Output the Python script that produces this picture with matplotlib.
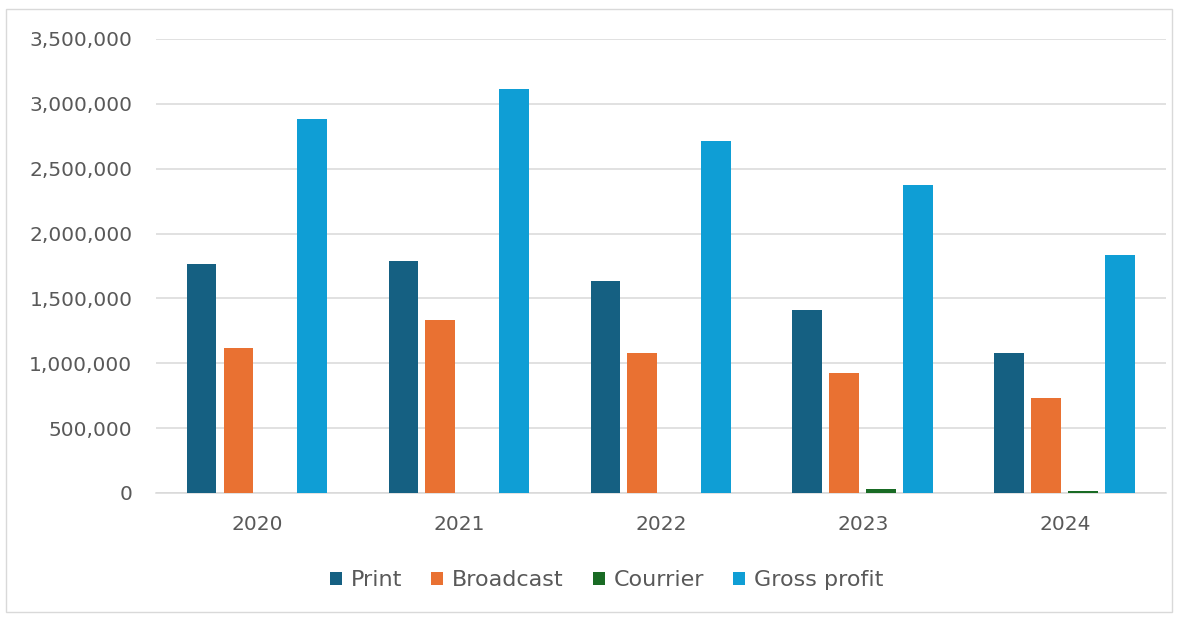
import matplotlib
matplotlib.use("Agg")
import matplotlib.pyplot as plt
import numpy as np
from matplotlib.patches import Rectangle
from matplotlib.ticker import FuncFormatter, MultipleLocator

years = ["2020", "2021", "2022", "2023", "2024"]
series_names = ["Print", "Broadcast", "Courrier", "Gross profit"]
print_vals = [1762000, 1785000, 1631000, 1408000, 1077000]
broadcast_vals = [1115000, 1331000, 1077000, 923000, 731000]
courrier_vals = [0, 0, 0, 30000, 18000]
gross_profit_vals = [2885000, 3115000, 2715000, 2377000, 1838000]

colors = ["#156082", "#E97132", "#196B24", "#0F9ED5"]
text_gray = "#595959"
grid_gray = "#d9d9d9"

plt.rcParams["font.family"] = ["DejaVu Sans"]

fig = plt.figure(figsize=(11.86, 6.18), dpi=100)
ax = fig.add_axes([0.1315, 0.2023, 0.8515, 0.7346])

x = np.arange(len(years))
step = 0.183
width = 0.148
all_series = [print_vals, broadcast_vals, courrier_vals, gross_profit_vals]
for i, (name, vals, c) in enumerate(zip(series_names, all_series, colors)):
    ax.bar(x + (i - 1.5) * step, vals, width=width, color=c, label=name, zorder=3)

ax.set_xlim(-0.5, len(years) - 0.5)
ax.set_ylim(0, 3500000)
ax.yaxis.set_major_locator(MultipleLocator(500000))
ax.yaxis.set_major_formatter(FuncFormatter(lambda v, _: f"{int(v):,}"))
ax.set_xticks(x)
ax.set_xticklabels(years)

ax.grid(axis="y", color=grid_gray, linewidth=1.1, zorder=0)
for side in ["top", "right", "left"]:
    ax.spines[side].set_visible(False)
ax.spines["bottom"].set_color(grid_gray)
ax.spines["bottom"].set_linewidth(1.1)
ax.tick_params(axis="both", length=0, labelsize=14.5, labelcolor=text_gray)
ax.tick_params(axis="y", pad=17)
ax.tick_params(axis="x", pad=16)

fig.legend(loc="center", bbox_to_anchor=(606.5 / 1186, 1 - 580 / 618), ncol=4,
           frameon=False, fontsize=16, handlelength=0.54, handleheight=0.54,
           handletextpad=0.4, columnspacing=1.3, labelcolor=text_gray)

# thin frame around the chart area
fig.add_artist(Rectangle((6 / 1186, 1 - 612 / 618), 1166 / 1186, 603 / 618,
                         transform=fig.transFigure, fill=False,
                         edgecolor=grid_gray, linewidth=1.0))

fig.savefig("out.png", dpi=100)
